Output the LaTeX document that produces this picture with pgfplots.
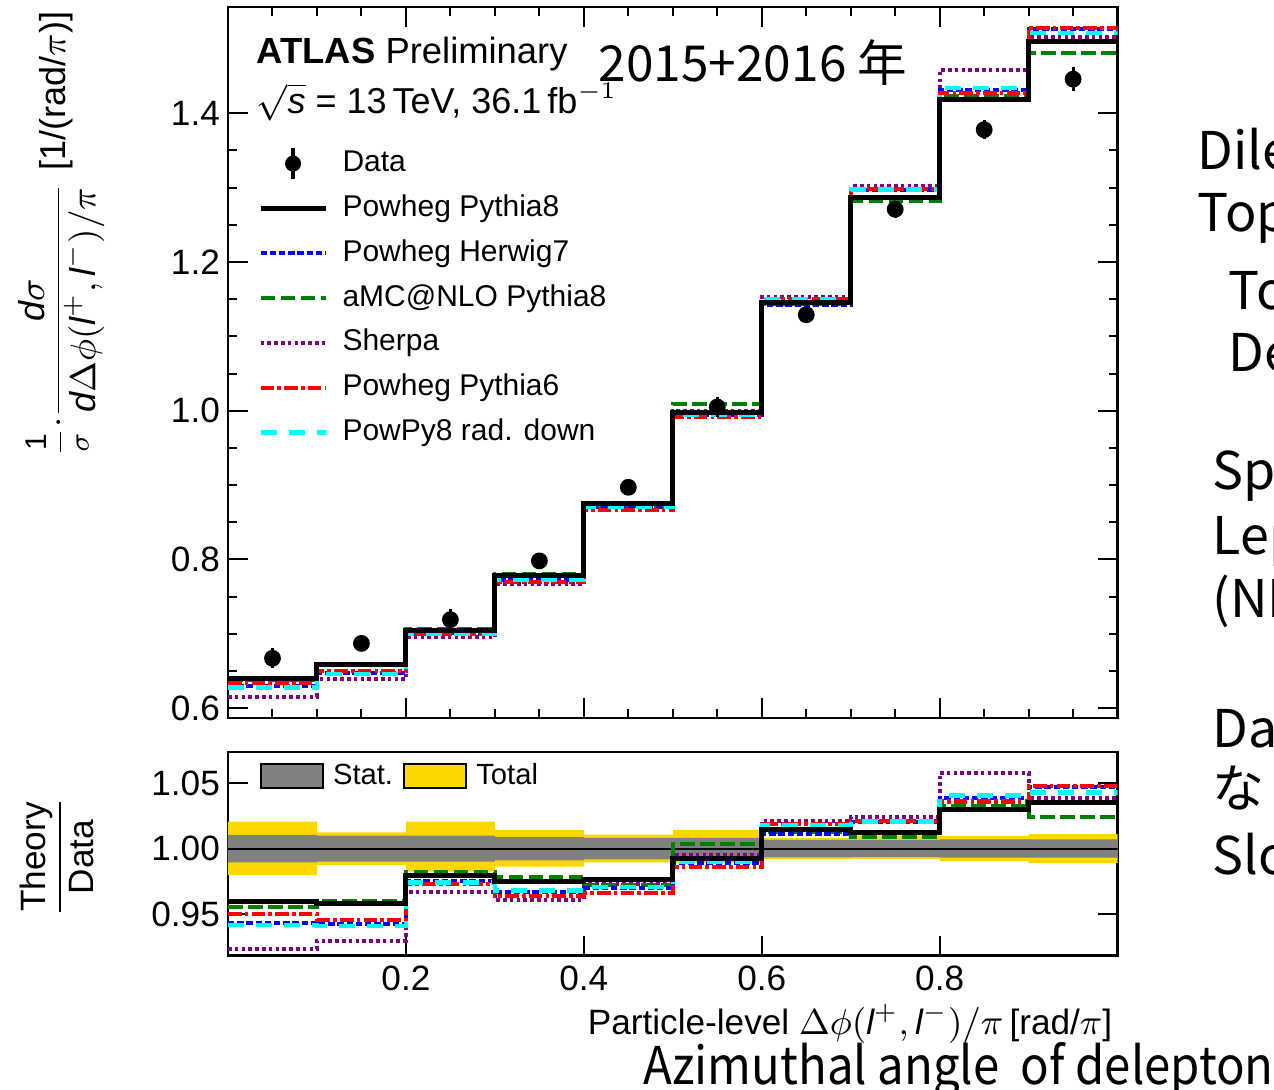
\documentclass[border=0pt]{standalone}
\usepackage{amsmath}
\usepackage{pgfplots}
\usepackage{pgfplotstable}
\pgfplotsset{compat=1.18}
\usepackage{fontspec}
\setmainfont{Liberation Sans}
\newfontfamily\cjk{Noto Sans CJK JP}
\definecolor{statc}{RGB}{128,128,128}
\definecolor{totc}{RGB}{255,215,0}
\definecolor{pgreen}{RGB}{0,128,0}
\definecolor{ppurple}{RGB}{128,0,128}
\definecolor{pcyan}{RGB}{0,255,255}
\definecolor{pblue}{RGB}{0,0,255}
\definecolor{pred}{RGB}{255,0,0}

\pgfplotstableread{
x pp8 h7 amc sh py6 rd
0.0 0.6399 0.6292 0.6374 0.6156 0.6337 0.6279
0.1 0.6583 0.6476 0.6597 0.6385 0.6495 0.6462
0.2 0.7042 0.7012 0.7060 0.6950 0.6994 0.7003
0.3 0.7779 0.7717 0.7805 0.7665 0.7693 0.7724
0.4 0.8757 0.8703 0.8721 0.8730 0.8664 0.8705
0.5 0.9976 0.9937 1.0084 1.0002 0.9911 0.9945
0.6 1.1457 1.1416 1.1437 1.1532 1.1501 1.1494
0.7 1.2865 1.2973 1.2821 1.3021 1.2979 1.2973
0.8 1.4188 1.4317 1.4231 1.4581 1.4276 1.4338
0.9 1.4969 1.5140 1.4811 1.5024 1.5150 1.5079
1.0 1.4969 1.5140 1.4811 1.5024 1.5150 1.5079
}\toptab

\pgfplotstableread{
x y e
0.05 0.667 0.0134
0.15 0.687 0.0086
0.25 0.719 0.0137
0.35 0.798 0.0112
0.45 0.897 0.0095
0.55 1.005 0.0129
0.65 1.129 0.0090
0.75 1.271 0.0114
0.85 1.378 0.0131
0.95 1.446 0.0159
}\datatab

\pgfplotstableread{
x pp8 h7 amc sh py6 rd
0.0 0.9594 0.9434 0.9556 0.9230 0.9500 0.9414
0.1 0.9582 0.9426 0.9602 0.9294 0.9454 0.9406
0.2 0.9794 0.9753 0.9819 0.9666 0.9728 0.9740
0.3 0.9748 0.9671 0.9781 0.9605 0.9640 0.9679
0.4 0.9763 0.9702 0.9722 0.9732 0.9659 0.9705
0.5 0.9926 0.9888 1.0034 0.9952 0.9862 0.9896
0.6 1.0148 1.0112 1.0130 1.0214 1.0187 1.0181
0.7 1.0122 1.0207 1.0087 1.0245 1.0212 1.0207
0.8 1.0296 1.0390 1.0327 1.0581 1.0360 1.0405
0.9 1.0352 1.0470 1.0243 1.0390 1.0477 1.0428
1.0 1.0352 1.0470 1.0243 1.0390 1.0477 1.0428
}\ratiotab

\begin{document}
\begin{tikzpicture}
\pgfplotsset{
  atlas/.style={scale only axis, width=222.4pt, xmin=0, xmax=1,
    axis line style={line width=0.6pt}, tick style={line width=0.5pt, black},
    tick align=inside, major tick length=5pt, minor tick length=2.2pt,
    /pgf/number format/assume math mode=true,
    ticklabel style={font=\fontsize{8.8}{10}\selectfont},
    yticklabel style={xshift=1.5pt}},
  blk/.style={black, line width=1.25pt, const plot mark left, no marks},
  hw/.style={pblue, line width=1pt, dash pattern=on 1.6pt off 0.7pt, const plot mark left, no marks},
  amcs/.style={pgreen, line width=1pt, dash pattern=on 3.7pt off 1.3pt, const plot mark left, no marks},
  shs/.style={ppurple, line width=1pt, dash pattern=on 0.9pt off 0.8pt, const plot mark left, no marks},
  py6s/.style={pred, line width=1.05pt, dash pattern=on 3.4pt off 0.8pt on 0.9pt off 0.8pt, const plot mark left, no marks},
  rds/.style={pcyan, line width=1.1pt, dash pattern=on 4pt off 3pt, const plot mark left, no marks},
}
% ---------------- top panel ----------------
\begin{axis}[atlas, at={(57pt,93pt)}, anchor=south west, height=177.75pt,
  ymin=0.5867, ymax=1.543,
  xtick={0,0.2,0.4,0.6,0.8,1.0}, xticklabels={}, minor x tick num=3,
  ytick={0.6,0.8,1.0,1.2,1.4}, minor y tick num=3,
  yticklabel style={/pgf/number format/.cd, fixed, fixed zerofill, precision=1},
  legend image code/.code={\draw[#1] (0pt,0pt) -- (16.25pt,0pt);},
  legend style={at={(0.0195,0.818)}, anchor=north west, draw=none, fill=none,
    font=\fontsize{7.5}{9}\selectfont, row sep=2pt, cells={anchor=west},
    nodes={inner sep=1pt, inner xsep=3.6pt, text height=5.6pt, text depth=1.6pt}},
]
\addlegendimage{legend image code/.code={\path[draw=none] (0pt,0pt) -- (16.25pt,0pt); \draw[black,solid,line width=0.8pt] (8.1pt,-3.9pt) -- (8.1pt,3.9pt); \fill[black] (8.1pt,0pt) circle (1.8pt);}}
\addlegendentry{Data}
\addlegendimage{blk}\addlegendentry{Powheg Pythia8}
\addlegendimage{hw}\addlegendentry{Powheg Herwig7}
\addlegendimage{amcs}\addlegendentry{aMC@NLO Pythia8}
\addlegendimage{shs}\addlegendentry{Sherpa}
\addlegendimage{py6s}\addlegendentry{Powheg Pythia6}
\addlegendimage{rds}\addlegendentry{PowPy8 rad. down}
\addplot[shs, forget plot] table[x=x,y=sh]{\toptab};
\addplot[amcs, forget plot] table[x=x,y=amc]{\toptab};
\addplot[hw, forget plot] table[x=x,y=h7]{\toptab};
\addplot[py6s, forget plot] table[x=x,y=py6]{\toptab};
\addplot[rds, forget plot] table[x=x,y=rd]{\toptab};
\addplot[blk, forget plot] table[x=x,y=pp8]{\toptab};
\addplot[black, only marks, mark=*, mark size=1.9pt, forget plot,
  error bars/.cd, y dir=both, y explicit, error mark=none,
  error bar style={line width=0.8pt}] table[x=x,y=y,y error=e]{\datatab};
\end{axis}
% ---------------- ratio panel ----------------
\begin{axis}[atlas, at={(57pt,33.6pt)}, anchor=south west, height=50.85pt,
  ymin=0.9181, ymax=1.0738,
  xtick={0.2,0.4,0.6,0.8}, xtick pos=bottom, minor x tick num=0,
  ytick={0.95,1.0,1.05}, minor y tick num=0,
  xticklabel style={yshift=1pt, /pgf/number format/.cd, fixed, fixed zerofill, precision=1},
  yticklabel style={/pgf/number format/.cd, fixed, fixed zerofill, precision=2},
  legend columns=2,
  legend image code/.code={\draw[#1,draw=black,line width=0.5pt] (0pt,-3pt) rectangle (15.5pt,3pt);},
  legend style={at={(0.0214,1.016)}, anchor=north west, draw=none, fill=none,
    font=\fontsize{7.3}{9}\selectfont, cells={anchor=west},
    nodes={inner sep=1pt, inner xsep=2.3pt, text height=5.6pt, text depth=1.6pt},
    /tikz/every even column/.append style={column sep=0.2pt}},
]
\addplot[fill=totc, draw=none, forget plot] coordinates {
(0,1.0207)(0.1,1.0207)(0.1,1.0125)(0.2,1.0125)(0.2,1.0207)(0.3,1.0207)(0.3,1.0143)(0.4,1.0143)(0.4,1.0107)(0.5,1.0107)(0.5,1.0143)(0.6,1.0143)(0.6,1.008)(0.7,1.008)(0.7,1.010)(0.8,1.010)(0.8,1.0095)(0.9,1.0095)(0.9,1.011)(1.0,1.011)
(1.0,0.989)(0.9,0.989)(0.9,0.9905)(0.8,0.9905)(0.8,0.992)(0.6,0.992)(0.6,0.9888)(0.5,0.9888)(0.5,0.9895)(0.4,0.9895)(0.4,0.9862)(0.3,0.9862)(0.3,0.9824)(0.2,0.9824)(0.2,0.9875)(0.1,0.9875)(0.1,0.9799)(0,0.9799)} -- cycle;
\addplot[fill=statc, draw=none, forget plot] coordinates {
(0,1.0105)(0.1,1.0105)(0.1,1.010)(0.3,1.010)(0.3,1.009)(0.4,1.009)(0.4,1.0083)(0.6,1.0083)(0.6,1.0067)(0.7,1.0067)(0.7,1.0066)(0.8,1.0066)(0.8,1.007)(1.0,1.007)
(1.0,0.993)(0.8,0.993)(0.8,0.9934)(0.7,0.9934)(0.7,0.9933)(0.6,0.9933)(0.6,0.9917)(0.4,0.9917)(0.4,0.991)(0.3,0.991)(0.3,0.990)(0.1,0.990)(0.1,0.9895)(0,0.9895)} -- cycle;
\addlegendimage{fill=statc}\addlegendentry{Stat.}
\addlegendimage{fill=totc}\addlegendentry{Total}
\addplot[black, line width=0.5pt, forget plot] coordinates {(0,1)(1,1)};
\addplot[shs, forget plot] table[x=x,y=sh]{\ratiotab};
\addplot[amcs, forget plot] table[x=x,y=amc]{\ratiotab};
\addplot[hw, forget plot] table[x=x,y=h7]{\ratiotab};
\addplot[py6s, forget plot] table[x=x,y=py6]{\ratiotab};
\addplot[rds, forget plot] table[x=x,y=rd]{\ratiotab};
\addplot[blk, forget plot] table[x=x,y=pp8]{\ratiotab};
\end{axis}
% ---------------- texts ----------------
\node[anchor=base west, inner sep=0pt, font=\fontsize{9.1}{10}\selectfont] at (64pt,256.5pt) {\textbf{ATLAS} Preliminary};
\node[anchor=base west, inner sep=0pt, font=\fontsize{9}{10}\selectfont] at (64pt,244pt) {$\sqrt{\textit{s}}$ = 13\,TeV, 36.1\,fb$^{-1}$};
\node[anchor=base west, inner sep=0pt, font=\cjk\fontsize{12.4}{14}\selectfont] at (149.5pt,252pt) {2015+2016 年};
\node[anchor=base east, inner sep=0pt, font=\fontsize{8.8}{10}\selectfont] at (278.25pt,13.75pt) {Particle-level $\Delta\phi(\textit{l}^{+},\textit{l}^{-})/\pi\,$[rad/$\pi$]};
\node[anchor=base west, inner sep=0pt, xscale=0.91, font=\cjk\fontsize{13}{15}\selectfont] at (160.75pt,1.25pt) {Azimuthal angle\ \ of delepton};
\node[rotate=90, inner sep=0pt, font=\fontsize{9}{10}\selectfont] at (15.3pt,192.5pt) {{\fontsize{7.5}{8}\selectfont$\dfrac{\text{1}}{\sigma}$}$\cdot\dfrac{\textit{d}\sigma}{\textit{d}\Delta\phi(\textit{l}^{+},\textit{l}^{-})/\pi}$};
\node[rotate=90, inner sep=0pt, font=\fontsize{9}{10}\selectfont] at (14pt,249.75pt) {[1/(rad/$\pi$)]};
\node[rotate=90, inner sep=0pt, font=\fontsize{8.8}{10}\selectfont] at (14.2pt,58.25pt) {$\dfrac{\text{Theory}}{\text{Data}}$};
\begin{scope}[every node/.style={anchor=base west, inner sep=0pt, font=\cjk\fontsize{13}{15}\selectfont}]
\node at (299.25pt,230pt) {Dilepton};
\node at (299.25pt,214.5pt) {Top quark};
\node at (307pt,195pt) {Total};
\node at (307pt,179.5pt) {Detector};
\node at (303pt,150pt) {Spin};
\node at (303pt,133.75pt) {Lepton};
\node at (303pt,118pt) {(NLO)};
\node at (303pt,85.5pt) {Data};
\node at (303pt,70.5pt) {なし};
\node at (303pt,53.75pt) {Slope};
\end{scope}
\pgfresetboundingbox
\useasboundingbox (0,0) rectangle (318.5pt,272.5pt);
\end{tikzpicture}
\end{document}
